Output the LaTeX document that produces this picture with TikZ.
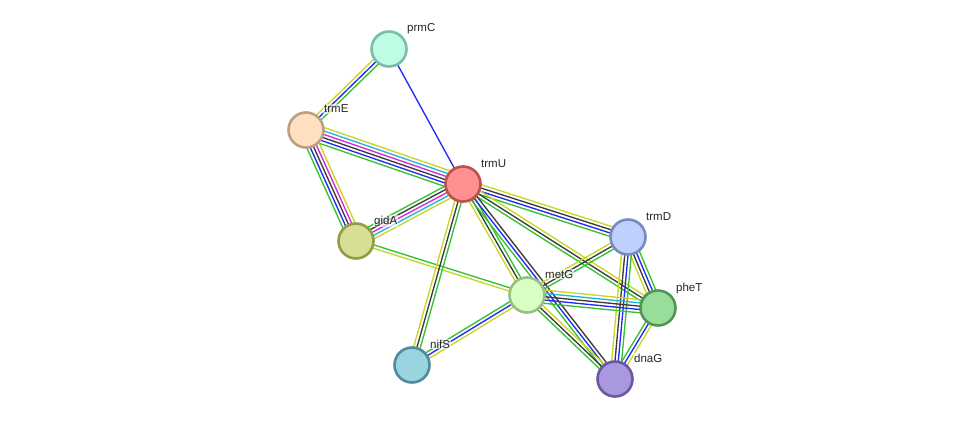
\documentclass[tikz,border=0pt]{standalone}
\usepackage{fontspec}
\setmainfont{Liberation Sans}
\usetikzlibrary{calc}
\pgfdeclarelayer{bg}
\pgfsetlayers{bg,main}
\definecolor{ey}{RGB}{199,214,40}
\definecolor{eb}{RGB}{40,40,245}
\definecolor{ek}{RGB}{60,60,60}
\definecolor{eg}{RGB}{50,195,50}
\definecolor{em}{RGB}{215,40,215}
\definecolor{ec}{RGB}{40,180,215}
\newcommand\sedge[4]{%
  \foreach \c [count=\i] in {#4} {
    \pgfmathsetmacro\off{(\i-(#3+1)/2)*3.3}
    \draw[color=\c, line width=1.35pt] ($(#1)!\off pt!90:(#2)$) -- ($(#2)!\off pt!-90:(#1)$);
  }}
\tikzset{
  gn/.style={circle, minimum size=35pt, inner sep=0pt, line width=2.6pt},
  lab/.style={anchor=base west, inner sep=1pt, fill=white, fill opacity=0.6, text opacity=1,
    font=\fontsize{11.5}{13}\selectfont, text=black!85}
}
\begin{document}
\begin{tikzpicture}[x=1pt,y=-1pt]
\useasboundingbox (0,0) rectangle (976,425);
\node[gn, fill={rgb,255:red,190;green,252;blue,228}, draw={rgb,255:red,122;green,190;blue,165}] (prmC) at (389,49) {};
\node[gn, fill={rgb,255:red,255;green,224;blue,192}, draw={rgb,255:red,190;green,160;blue,128}] (trmE) at (306,130) {};
\node[gn, fill={rgb,255:red,255;green,145;blue,145}, draw={rgb,255:red,190;green,80;blue,80}] (trmU) at (463,184) {};
\node[gn, fill={rgb,255:red,215;green,222;blue,150}, draw={rgb,255:red,150;green,155;blue,70}] (gidA) at (356,241) {};
\node[gn, fill={rgb,255:red,192;green,208;blue,252}, draw={rgb,255:red,122;green,140;blue,190}] (trmD) at (628,237) {};
\node[gn, fill={rgb,255:red,218;green,255;blue,196}, draw={rgb,255:red,152;green,192;blue,132}] (metG) at (527,295) {};
\node[gn, fill={rgb,255:red,152;green,222;blue,155}, draw={rgb,255:red,82;green,150;blue,85}] (pheT) at (658,308) {};
\node[gn, fill={rgb,255:red,155;green,212;blue,225}, draw={rgb,255:red,80;green,140;blue,158}] (nifS) at (412,365) {};
\node[gn, fill={rgb,255:red,170;green,152;blue,222}, draw={rgb,255:red,108;green,88;blue,160}] (dnaG) at (615,379) {};

\node[lab] (prmC-l) at (406,32) {prmC};
\node[lab] (trmE-l) at (323,113) {trmE};
\node[lab] (trmU-l) at (480,167) {trmU};
\node[lab] (gidA-l) at (373,224) {gidA};
\node[lab] (trmD-l) at (645,220) {trmD};
\node[lab] (metG-l) at (544,278) {metG};
\node[lab] (pheT-l) at (675,291) {pheT};
\node[lab] (nifS-l) at (429,348) {nifS};
\node[lab] (dnaG-l) at (633,362) {dnaG};

\begin{pgfonlayer}{bg}
\sedge{prmC}{trmE}{3}{ey,eb,eg}
\sedge{prmC}{trmU}{1}{eb}
\sedge{trmE}{trmU}{6}{eg,eb,ek,em,ec,ey}
\sedge{trmE}{gidA}{5}{eg,eb,ek,em,ey}
\sedge{trmU}{gidA}{5}{eg,ek,em,ec,ey}
\sedge{gidA}{metG}{2}{ey,eg}
\sedge{trmU}{nifS}{3}{ey,ek,eg}
\sedge{trmU}{trmD}{4}{eg,eb,ek,ey}
\sedge{trmU}{pheT}{3}{eg,ek,ey}
\sedge{trmU}{metG}{3}{ey,ek,eg}
\sedge{trmU}{dnaG}{3}{eg,eb,ek}
\sedge{trmD}{metG}{3}{ey,ek,eg}
\sedge{trmD}{pheT}{4}{ey,ek,eb,eg}
\sedge{trmD}{dnaG}{4}{ey,ek,eb,eg}
\sedge{metG}{pheT}{5}{eg,eb,ek,ec,ey}
\sedge{nifS}{metG}{3}{ey,eb,eg}
\sedge{pheT}{dnaG}{3}{eg,eb,ey}
\sedge{metG}{dnaG}{3}{eg,ek,ey}
\end{pgfonlayer}
\end{tikzpicture}
\end{document}
